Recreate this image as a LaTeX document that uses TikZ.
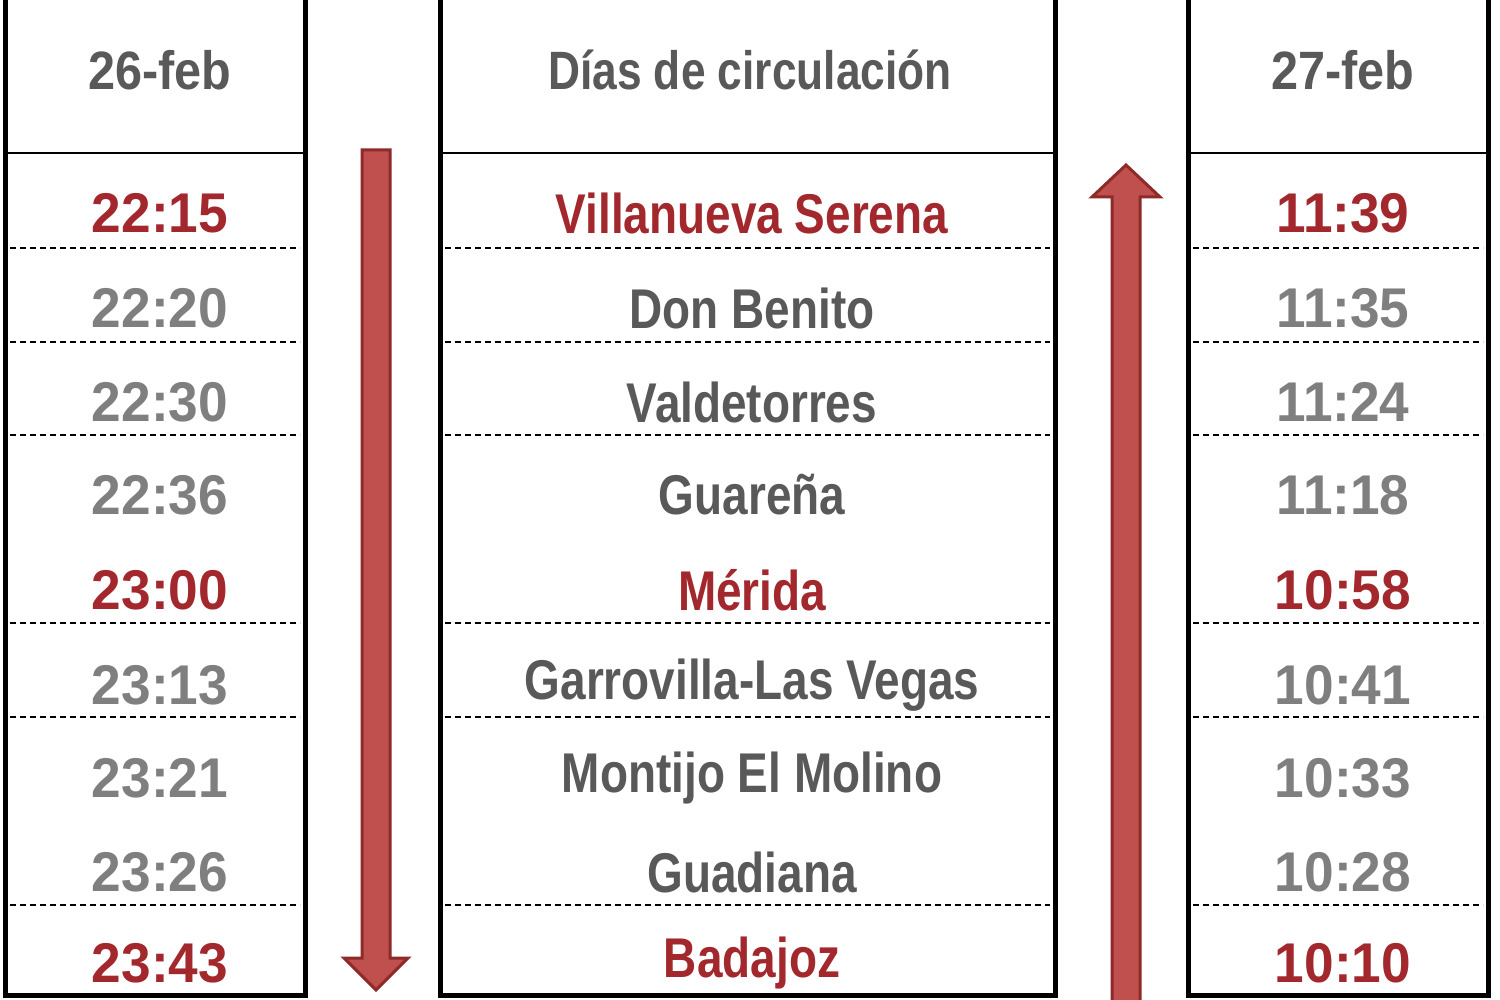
\documentclass[tikz,border=0pt]{standalone}
\usepackage{fontspec}
\setmainfont{Liberation Sans}
\begin{document}
\begin{tikzpicture}[x=1pt,y=-1pt,
  red/.style={text=txtred},
  gr/.style={text=txtgray},
  cell/.style={inner sep=0pt,anchor=center,font=\fontsize{56}{60}\selectfont\bfseries},
  hd/.style={inner sep=0pt,anchor=center,font=\fontsize{54}{58}\selectfont\bfseries,text=hdgray},
  frame/.style={draw=black,line width=5pt},
  dl/.style={draw=black,line width=1.5pt,dash pattern=on 6pt off 4pt},
  arr/.style={fill=arrfill,draw=arrdraw,line width=3pt,line join=miter}]
\definecolor{txtred}{HTML}{A3282D}
\definecolor{txtgray}{HTML}{7F7F7F}
\definecolor{hdgray}{HTML}{595959}
\definecolor{arrfill}{HTML}{C0504D}
\definecolor{arrdraw}{HTML}{8E2A2A}
\useasboundingbox (0,0) rectangle (1500,1000);
\fill[white] (0,0) rectangle (1500,1000);
% frames
\foreach \l/\r in {5/305,440/1055,1188/1488}{
  \draw[frame] (\l,-5) -- (\l,995) -- (\r,995) -- (\r,-5);
  \draw[line width=2.5pt] (\l,153) -- (\r,153);
  \foreach \y in {248,342,435,623,717,905}{\draw[dl] (\l+5,\y) -- (\r-5,\y);}
}
% headers
\node[hd] (h1) at (160,70) {\scalebox{0.9}[1]{26-feb}};
\node[hd] (h2) at (750,70) {\scalebox{0.82}[1]{Días de circulación}};
\node[hd] (h3) at (1343,70) {\scalebox{0.9}[1]{27-feb}};
% rows
\foreach \i/\a/\s/\b/\st/\mc [count=\n] in {
 213/22:15/Villanueva Serena/11:39/red/txtred,
 308/22:20/Don Benito/11:35/gr/hdgray,
 402/22:30/Valdetorres/11:24/gr/hdgray,
 495/22:36/Guareña/11:18/gr/hdgray,
 590/23:00/Mérida/10:58/red/txtred,
 685/23:13/Garrovilla-Las Vegas/10:41/gr/hdgray,
 778/23:21/Montijo El Molino/10:33/gr/hdgray,
 872/23:26/Guadiana/10:28/gr/hdgray,
 963/23:43/Badajoz/10:10/red/txtred}{
  \node[cell,\st] (l\n) at (160,\i) {\scalebox{0.95}[1]{\a}};
  \node[cell,text=\mc] (m\n) at (752,\i) {\scalebox{0.82}[1]{\s}};
  \node[cell,\st] (r\n) at (1343,\i) {\scalebox{0.95}[1]{\b}};
}
% arrows
\draw[arr] (362,150) -- (390,150) -- (390,958) -- (408,958) -- (376,990) -- (344,958) -- (362,958) -- cycle;
\draw[arr] (1112,1005) -- (1112,197) -- (1092,197) -- (1126,165) -- (1160,197) -- (1140,197) -- (1140,1005) -- cycle;
\end{tikzpicture}
\end{document}
